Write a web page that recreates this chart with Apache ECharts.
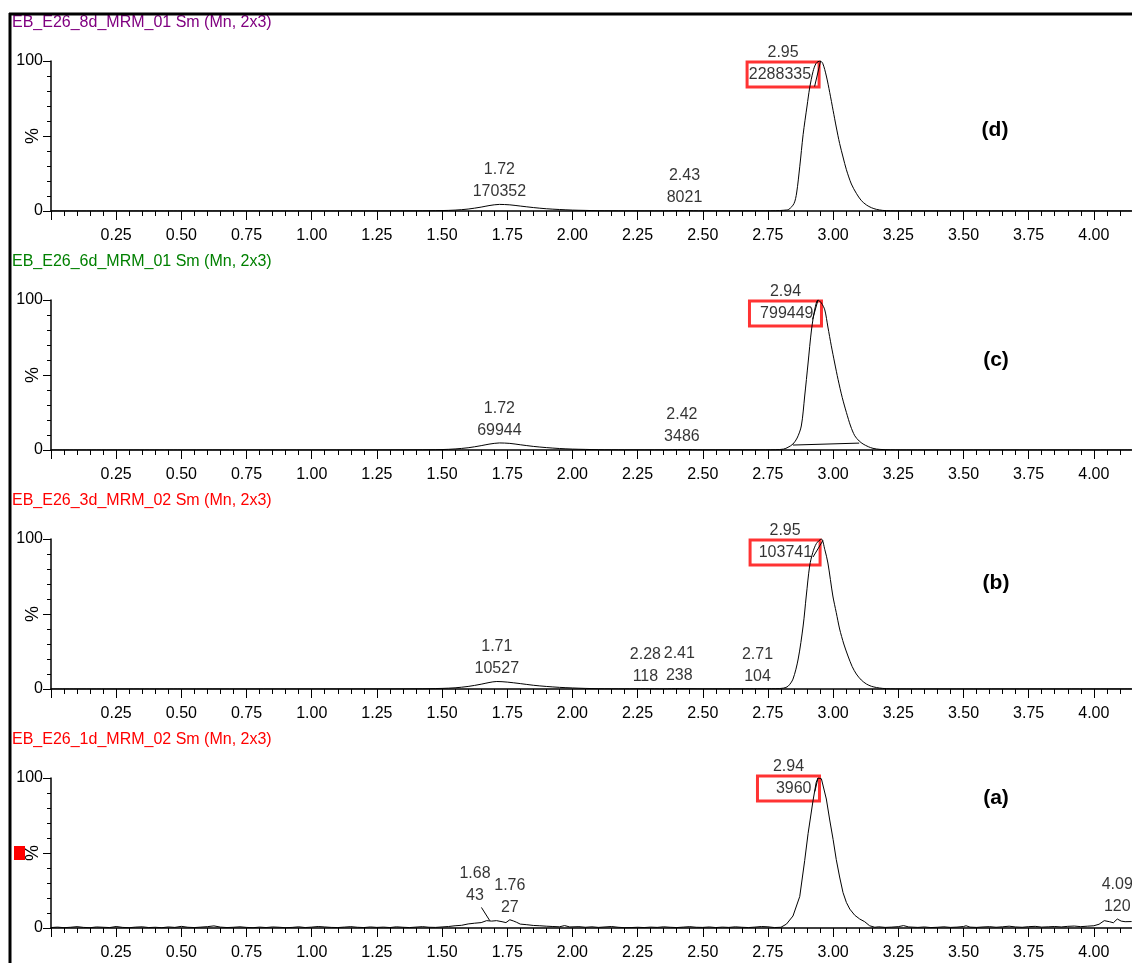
<!DOCTYPE html>
<html><head><meta charset="utf-8">
<script src="https://cdn.jsdelivr.net/npm/echarts@6/dist/echarts.min.js"></script>
<style>html,body{margin:0;padding:0;background:#fff}#c{width:1132px;height:963px}</style>
</head><body><div id="c"></div>
<script>
// ---------------- DATA ----------------
const sampleNames = ['EB_E26_8d_MRM_01 Sm (Mn, 2x3)', 'EB_E26_6d_MRM_01 Sm (Mn, 2x3)', 'EB_E26_3d_MRM_02 Sm (Mn, 2x3)', 'EB_E26_1d_MRM_02 Sm (Mn, 2x3)'];
const panelTags = ['(d)', '(c)', '(b)', '(a)'];
const xTickStep = 0.25;
const yTickLabels = ['0', '100'];

// retention time (min), relative intensity (%)
const trace8d = [[0,0],[0.5,0],[1.0,0],[1.4,0.1],[1.5,0.3],[1.55,0.6],[1.6,1.3],[1.65,2.6],[1.68,3.6],[1.72,4.4],[1.76,4.1],[1.8,3.3],[1.85,2.3],[1.9,1.5],[1.95,1.0],[2.0,0.6],[2.05,0.4],[2.1,0.2],[2.2,0.1],[2.35,0.1],[2.43,0.3],[2.5,0.1],[2.7,0.1],[2.78,0.2],[2.81,0.5],[2.83,1.1],[2.85,5],[2.86,12],[2.872,29.5],[2.885,51],[2.9,70],[2.91,82],[2.923,93],[2.935,98.5],[2.95,100],[2.96,98.5],[2.974,90],[2.987,79],[3.0,67],[3.012,56],[3.025,45],[3.038,36],[3.051,27.5],[3.07,18],[3.089,11.8],[3.108,7],[3.128,4],[3.147,2.2],[3.166,1.1],[3.19,0.4],[3.22,0.1],[3.3,0],[4.145,0]];
const trace6d = [[0,0],[0.5,0],[1.0,0],[1.4,0.1],[1.5,0.3],[1.55,0.7],[1.6,1.5],[1.65,2.9],[1.68,3.9],[1.72,4.7],[1.76,4.4],[1.8,3.5],[1.85,2.4],[1.9,1.6],[1.95,1.0],[2.0,0.6],[2.05,0.4],[2.1,0.2],[2.2,0.1],[2.35,0.1],[2.42,0.3],[2.5,0.1],[2.7,0.1],[2.78,0.2],[2.81,0.6],[2.827,1.8],[2.846,4],[2.862,8],[2.878,16],[2.891,36],[2.904,58],[2.917,80],[2.93,94],[2.942,100],[2.955,98],[2.968,93.4],[2.98,82],[2.993,69.5],[3.006,58],[3.019,47],[3.035,35],[3.051,25],[3.067,16],[3.083,9.5],[3.1,6],[3.115,4],[3.135,2.2],[3.153,1.1],[3.18,0.4],[3.22,0.1],[3.3,0],[4.145,0]];
const trace3d = [[0,0],[0.5,0],[1.0,0],[1.4,0.1],[1.5,0.4],[1.55,0.8],[1.6,1.7],[1.65,3.2],[1.68,4.3],[1.71,5.0],[1.75,4.6],[1.8,3.6],[1.85,2.5],[1.9,1.7],[1.95,1.1],[2.0,0.7],[2.05,0.4],[2.1,0.2],[2.2,0.1],[2.28,0.2],[2.35,0.1],[2.41,0.3],[2.5,0.1],[2.65,0.1],[2.71,0.2],[2.78,0.2],[2.81,0.6],[2.827,1.8],[2.846,6.6],[2.866,20],[2.885,42],[2.897,62],[2.91,82],[2.922,91],[2.936,97],[2.955,100],[2.968,93],[2.98,84],[2.999,62],[3.012,51],[3.025,40],[3.041,30],[3.057,22],[3.073,15],[3.089,10],[3.108,6],[3.128,3.3],[3.147,1.8],[3.166,1],[3.19,0.4],[3.22,0.1],[3.3,0],[4.145,0]];
const trace1d = [[0,0.3],[0.025,0.6],[0.05,0.2],[0.075,0.5],[0.1,0.9],[0.125,0.4],[0.15,0.2],[0.175,0.7],[0.2,0.5],[0.225,0.3],[0.25,1.0],[0.275,0.4],[0.3,0.2],[0.325,0.6],[0.35,0.8],[0.375,0.3],[0.4,0.5],[0.425,0.2],[0.45,0.7],[0.475,0.4],[0.5,1.1],[0.525,0.5],[0.55,0.3],[0.575,0.6],[0.6,0.9],[0.625,1.4],[0.65,0.6],[0.675,0.3],[0.7,0.5],[0.725,0.8],[0.75,0.4],[0.775,0.2],[0.8,0.6],[0.825,0.3],[0.85,0.7],[0.875,0.5],[0.9,0.2],[0.925,0.4],[0.95,0.8],[0.975,0.3],[1.0,0.6],[1.025,1.0],[1.05,0.7],[1.075,0.4],[1.1,0.3],[1.125,0.6],[1.15,0.9],[1.175,0.5],[1.2,0.3],[1.225,0.7],[1.25,0.4],[1.275,0.6],[1.3,0.3],[1.325,0.8],[1.35,0.5],[1.375,0.3],[1.4,0.6],[1.425,0.9],[1.45,0.5],[1.475,0.4],[1.5,0.7],[1.525,1.0],[1.55,1.5],[1.575,1.8],[1.6,2.7],[1.625,3.2],[1.65,3.6],[1.671,4.9],[1.69,4.6],[1.709,4.9],[1.73,4.2],[1.745,3.6],[1.76,5.5],[1.775,4.6],[1.786,3.8],[1.8,2.6],[1.825,2.2],[1.85,1.7],[1.875,1.5],[1.9,1.2],[1.925,1.0],[1.95,0.8],[1.97,1.6],[1.99,0.7],[2.025,0.9],[2.05,0.5],[2.075,0.8],[2.1,0.4],[2.125,0.7],[2.15,1.0],[2.175,0.5],[2.2,0.2],[2.225,0.3],[2.25,0.5],[2.275,0.3],[2.3,0.6],[2.325,0.4],[2.35,0.8],[2.375,0.5],[2.4,0.3],[2.425,0.6],[2.45,0.9],[2.475,0.5],[2.5,0.4],[2.525,0.7],[2.55,0.3],[2.575,0.6],[2.6,0.4],[2.625,0.8],[2.65,0.5],[2.675,0.3],[2.7,0.6],[2.725,1.0],[2.75,0.8],[2.775,0.3],[2.8,0.5],[2.821,2.6],[2.846,8],[2.872,21],[2.891,45],[2.904,63],[2.923,85],[2.935,97],[2.942,100],[2.955,99.5],[2.961,98.7],[2.974,86],[2.987,72],[3.0,59],[3.012,45.7],[3.025,34],[3.038,23.6],[3.051,17],[3.064,12.6],[3.083,8.5],[3.102,6],[3.121,4.2],[3.14,1.5],[3.16,0.5],[3.175,0.8],[3.2,0.4],[3.225,0.6],[3.25,0.9],[3.27,1.6],[3.29,0.7],[3.325,0.4],[3.35,0.7],[3.375,0.3],[3.4,0.5],[3.425,0.8],[3.45,0.4],[3.475,0.6],[3.5,1.0],[3.51,1.5],[3.525,0.6],[3.55,0.4],[3.575,0.7],[3.6,0.9],[3.625,0.5],[3.65,0.8],[3.675,1.2],[3.7,0.7],[3.725,0.5],[3.75,0.9],[3.775,1.1],[3.8,0.6],[3.825,0.8],[3.85,1.0],[3.875,0.7],[3.9,1.1],[3.925,1.3],[3.95,0.9],[3.975,1.2],[4.0,1.5],[4.02,2.5],[4.04,4.9],[4.06,4.2],[4.075,3.5],[4.09,6.0],[4.105,4.6],[4.12,4.2],[4.145,4.3]];

// minor peak annotations: retention time, area, apex intensity (%)
const peaks8d = [['1.72','170352',4.4],['2.43','8021',0.3]];
const peaks6d = [['1.72','69944',4.7],['2.42','3486',0.3]];
const peaks3d = [['1.71','10527',5.0],['2.28','118',0.2],['2.41','238',0.3],['2.71','104',0.2]];
const peaks1d = [['1.68','43',4.9],['1.76','27',5.5],['4.09','120',6.0]];
// main (boxed) peak: retention time, area, apex intensity
const main8d = ['2.95','2288335',100];
const main6d = ['2.94','799449',100];
const main3d = ['2.95','103741',100];
const main1d = ['2.94','3960',100];
// integration baseline drawn under the 6d peak
const baseline6d = [[2.846,3.3],[3.10,4.6]];

// ---------------- LAYOUT / STYLE ----------------
const FONT = '"Liberation Sans Narrow","Arial Narrow","Liberation Sans",sans-serif';
const titleColors = ['#800080', '#008000', '#ff0000', '#ff0000'];
const gridTops = [61, 300, 539, 778];
const gridH = 150;
const tagPos = [[995,130],[996,360],[996,583],[996,798]];
const traces = [trace8d, trace6d, trace3d, trace1d];
const peaks = [peaks8d, peaks6d, peaks3d, peaks1d];
const mains = [main8d, main6d, main3d, main1d];
const mainOffset = [[-37,26],[-32,26],[-35,26],[-29,23]];
const mainBoxW = [60, 60, 58, 50];
const minorOffsets = {'3:0': [-14, -13]};
const leaders = [
  [[[2.929,83],[2.952,100]]],
  [[[2.921,87],[2.942,100]]],
  [[[2.923,88],[2.961,99]]],
  [[[2.93,91],[2.942,100]], [[1.651,13.7],[1.683,4.9]]]
];

const grids = [], xAxes = [], yAxes = [], series = [], graphics = [];
for (let i = 0; i < 4; i++) {
  grids.push({left: 51, top: gridTops[i], width: 1108, height: gridH, containLabel: false, outerBoundsMode: 'none'});
  xAxes.push({
    type: 'value', gridIndex: i, min: 0, max: 4.25, interval: xTickStep,
    axisLine: {show: true, onZero: false, lineStyle: {color: '#000', width: 1.5}},
    axisTick: {show: true, length: 9, lineStyle: {color: '#000', width: 1}},
    minorTick: {show: true, splitNumber: 5, length: 5, lineStyle: {color: '#000', width: 1}},
    splitLine: {show: false}, minorSplitLine: {show: false},
    axisLabel: {
      color: '#000', fontSize: 16, fontFamily: FONT, margin: 17, showMinLabel: true, showMaxLabel: true,
      formatter: v => (v > 0.01 && v < 4.1) ? v.toFixed(2) : ''
    }
  });
  yAxes.push({
    type: 'value', gridIndex: i, min: 0, max: 100, interval: 50,
    axisLine: {show: true, lineStyle: {color: '#000', width: 1.5}},
    axisTick: {show: true, length: 8, lineStyle: {color: '#000', width: 1}},
    minorTick: {show: true, splitNumber: 5, length: 4, lineStyle: {color: '#000', width: 1}},
    splitLine: {show: false}, minorSplitLine: {show: false},
    axisLabel: {color: '#000', fontSize: 16, fontFamily: FONT, margin: 8,
      formatter: v => yTickLabels.indexOf(String(v)) >= 0 ? String(v) : ''},
    name: '%', nameLocation: 'middle', nameGap: 9, nameRotate: 90, nameMoveOverlap: false,
    nameTextStyle: {color: '#000', fontSize: 18, fontFamily: FONT}
  });
  series.push({
    type: 'line', xAxisIndex: i, yAxisIndex: i, data: traces[i], showSymbol: false,
    smooth: i < 3 ? 0.3 : false, lineStyle: {color: '#000', width: 1}, silent: true
  });
  series.push({
    type: 'scatter', xAxisIndex: i, yAxisIndex: i, symbolSize: 1, itemStyle: {color: 'rgba(0,0,0,0)'}, silent: true,
    data: peaks[i].map((p, k) => ({
      value: [parseFloat(p[0]), p[2]],
      label: {
        show: true, position: 'top', distance: 1, offset: minorOffsets[i + ':' + k] || [0, 0],
        formatter: p[0] + '\n' + p[1], color: '#000', fontSize: 16, lineHeight: 22, fontFamily: FONT, align: 'center'
      }
    }))
  });
  const m = mains[i];
  series.push({
    type: 'scatter', xAxisIndex: i, yAxisIndex: i, symbolSize: 1, itemStyle: {color: 'rgba(0,0,0,0)'}, silent: true,
    data: [{
      value: [parseFloat(m[0]), m[2]],
      label: {
        show: true, position: 'top', distance: 0, offset: mainOffset[i],
        formatter: '{t|' + m[0] + '}\n{b|' + m[1] + '}',
        rich: {
          t: {color: '#000', fontSize: 16, lineHeight: 20, fontFamily: FONT, align: 'center'},
          b: {color: '#000', fontSize: 16, lineHeight: 24, height: 24, fontFamily: FONT, align: 'right',
              width: mainBoxW[i], borderColor: '#ff0000', borderWidth: 3, padding: [1, 8, 0, 4]}
        }
      }
    }]
  });
  leaders[i].forEach(seg => series.push({
    type: 'line', xAxisIndex: i, yAxisIndex: i, data: seg, showSymbol: false,
    lineStyle: {color: '#000', width: 1}, silent: true
  }));
  if (i === 1) series.push({
    type: 'line', xAxisIndex: i, yAxisIndex: i, data: baseline6d, showSymbol: false,
    lineStyle: {color: '#000', width: 1}, silent: true
  });
  graphics.push({type: 'text', left: 12, top: gridTops[i] - 46,
    style: {text: sampleNames[i], fill: titleColors[i], font: '16px ' + FONT}});
  graphics.push({type: 'text', x: tagPos[i][0], y: tagPos[i][1],
    style: {text: panelTags[i], fill: '#000', font: 'bold 21px "Liberation Sans",Arial,sans-serif', align: 'center', verticalAlign: 'middle'}});
}
graphics.push({type: 'line', shape: {x1: 9, y1: 14, x2: 1132, y2: 14}, style: {stroke: '#000', lineWidth: 3}});
graphics.push({type: 'line', shape: {x1: 10, y1: 13, x2: 10, y2: 963}, style: {stroke: '#000', lineWidth: 3}});
graphics.push({type: 'rect', shape: {x: 14, y: 846, width: 11, height: 14}, style: {fill: '#ff0000'}});

const chart = echarts.init(document.getElementById('c'), null, {renderer: 'canvas'});
chart.setOption({
  animation: false, backgroundColor: '#fff',
  grid: grids, xAxis: xAxes, yAxis: yAxes, series: series, graphic: graphics
});
</script></body></html>
